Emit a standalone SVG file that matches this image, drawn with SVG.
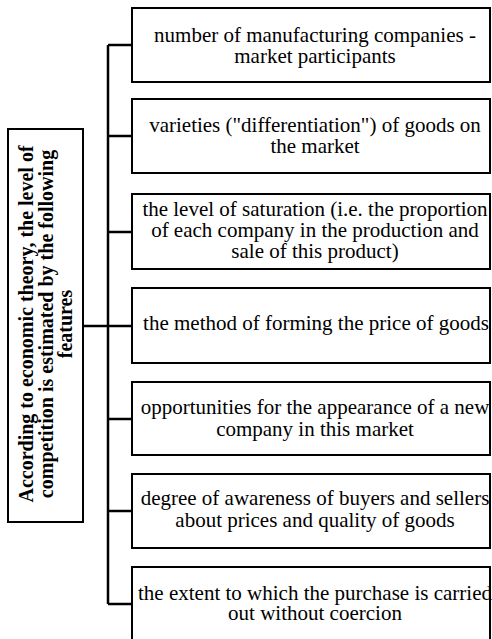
<svg xmlns="http://www.w3.org/2000/svg" width="492" height="639" viewBox="0 0 492 639">
<style>
.box{fill:#fff;stroke:#000;stroke-width:2}
.t{font-family:"Liberation Serif","Times New Roman",serif;font-size:21px;fill:#000;text-anchor:middle}
.h{font-family:"Liberation Serif","Times New Roman",serif;font-size:20px;font-weight:bold;fill:#000;text-anchor:middle}
.c{fill:none;stroke:#000;stroke-width:2.5}
</style>
<rect width="492" height="639" fill="#fff"/>
<g id="connectors">
<path class="c" d="M108 45V604M83 326H132M108 45H132M108 136H132M108 232H132M108 419H132M108 511H132M108 604H132"/>
</g>
<g id="main">
<rect class="box" x="8" y="129" width="75" height="393"/>
<text class="h" transform="translate(45.5 324) rotate(-90)"><tspan x="0" y="-13">According to economic theory, the level of</tspan><tspan x="0" y="7">competition is estimated by the following</tspan><tspan x="0" y="26.5">features</tspan></text>
</g>
<g id="n1">
<rect class="box" x="132" y="8" width="358" height="74"/>
<text class="t"><tspan x="315" y="42">number of manufacturing companies -</tspan><tspan x="315" y="63">market participants</tspan></text>
</g>
<g id="n2">
<rect class="box" x="132" y="99" width="358" height="74"/>
<text class="t"><tspan x="315" y="132">varieties ("differentiation") of goods on</tspan><tspan x="315" y="153">the market</tspan></text>
</g>
<g id="n3">
<rect class="box" x="132" y="194" width="358" height="75"/>
<text class="t"><tspan x="315" y="216">the level of saturation (i.e. the proportion</tspan><tspan x="315" y="237">of each company in the production and</tspan><tspan x="315" y="258">sale of this product)</tspan></text>
</g>
<g id="n4">
<rect class="box" x="132" y="288" width="358" height="75"/>
<text class="t"><tspan x="316" y="330">the method of forming the price of goods</tspan></text>
</g>
<g id="n5">
<rect class="box" x="132" y="382" width="358" height="73"/>
<text class="t"><tspan x="315" y="414">opportunities for the appearance of a new</tspan><tspan x="315" y="436">company in this market</tspan></text>
</g>
<g id="n6">
<rect class="box" x="132" y="474" width="358" height="74"/>
<text class="t"><tspan x="315" y="505">degree of awareness of buyers and sellers</tspan><tspan x="315" y="527">about prices and quality of goods</tspan></text>
</g>
<g id="n7">
<rect class="box" x="132" y="567" width="358" height="80"/>
<text class="t"><tspan x="315" y="600">the extent to which the purchase is carried</tspan><tspan x="315" y="620">out without coercion</tspan></text>
</g>
</svg>
